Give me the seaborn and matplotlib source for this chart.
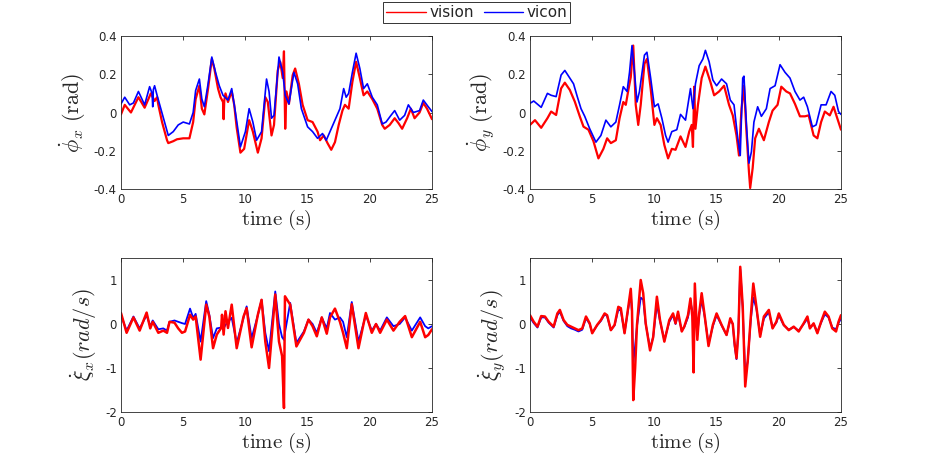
import matplotlib
matplotlib.use('Agg')
import matplotlib.pyplot as plt
from matplotlib.lines import Line2D
import seaborn as sns

# top-left: phi_x rate (rad)
t_px_vision = [0, 0.3, 0.8, 1.4, 1.9, 2.4, 2.7, 2.9, 3.0, 3.3,
               3.7, 3.8, 4.2, 4.5, 5.0, 5.5, 5.8, 6.0, 6.3, 6.5,
               6.7, 7.0, 7.3, 7.5, 7.8, 8.0, 8.2, 8.25, 8.3, 8.4,
               8.6, 8.9, 9.1, 9.3, 9.6, 9.9, 10.3, 10.6, 11.0, 11.3,
               11.6, 11.8, 12.1, 12.3, 12.6, 12.8, 13.0, 13.1, 13.2, 13.3,
               13.5, 13.8, 14.0, 14.3, 14.6, 15.0, 15.4, 15.8, 16.0, 16.3,
               16.6, 16.9, 17.2, 17.5, 17.8, 18.0, 18.3, 18.6, 18.9, 19.2,
               19.5, 19.8, 20.2, 20.6, 21.0, 21.2, 21.6, 22.0, 22.3, 22.6,
               23.0, 23.3, 23.6, 24.0, 24.3, 24.6, 25.0]
px_vision = [-0.01, 0.04, 0.0, 0.08, 0.025, 0.1, 0.06, 0.08, 0.04, -0.05,
             -0.145, -0.16, -0.15, -0.14, -0.135, -0.135, -0.05, 0.07, 0.14, 0.02,
             -0.01, 0.125, 0.28, 0.23, 0.125, 0.08, 0.055, -0.035, 0.06, 0.1,
             0.055, 0.11, 0.04, -0.08, -0.21, -0.19, -0.04, -0.1, -0.21, -0.135,
             0.08, 0.055, -0.12, -0.065, 0.22, 0.265, 0.18, 0.32, -0.085, 0.11,
             0.045, 0.195, 0.23, 0.15, 0.04, -0.04, -0.05, -0.1, -0.145, -0.12,
             -0.16, -0.195, -0.155, -0.065, 0.01, 0.04, 0.02, 0.16, 0.265, 0.18,
             0.09, 0.11, 0.07, 0.02, -0.065, -0.085, -0.065, -0.03, -0.055, -0.085,
             -0.03, 0.02, -0.03, 0.0, 0.05, 0.02, -0.035]
t_px_vicon = [0, 0.3, 0.7, 1.0, 1.4, 1.9, 2.3, 2.5, 2.55, 2.6,
              2.7, 2.9, 3.2, 3.5, 3.8, 4.2, 4.6, 5.0, 5.5, 5.8,
              6.0, 6.3, 6.5, 6.7, 7.0, 7.3, 7.6, 7.9, 8.2, 8.6,
              8.9, 9.2, 9.6, 10.0, 10.3, 10.6, 10.9, 11.3, 11.7, 11.9,
              12.1, 12.3, 12.7, 13.0, 13.2, 13.5, 13.9, 14.2, 14.5, 15.0,
              15.4, 15.8, 16.2, 16.5, 16.9, 17.2, 17.6, 17.9, 18.1, 18.3,
              18.6, 18.9, 19.2, 19.5, 19.8, 20.2, 20.6, 21.0, 21.3, 21.7,
              22.0, 22.4, 22.8, 23.1, 23.5, 24.0, 24.3, 24.7, 25.0]
px_vicon = [0.045, 0.08, 0.04, 0.05, 0.11, 0.04, 0.135, 0.1, 0.03, 0.12,
            0.14, 0.09, 0.02, -0.05, -0.12, -0.1, -0.065, -0.05, -0.06, 0.0,
            0.115, 0.175, 0.07, 0.03, 0.15, 0.29, 0.21, 0.14, 0.09, 0.065,
            0.125, 0.0, -0.18, -0.1, 0.02, -0.05, -0.145, -0.1, 0.175, 0.11,
            -0.03, -0.015, 0.29, 0.21, 0.09, 0.045, 0.21, 0.15, 0.02, -0.075,
            -0.1, -0.135, -0.11, -0.145, -0.085, -0.04, 0.02, 0.125, 0.08, 0.1,
            0.21, 0.31, 0.23, 0.125, 0.15, 0.08, 0.04, -0.06, -0.05, -0.015,
            0.01, -0.04, -0.015, 0.04, 0.0, 0.01, 0.065, 0.03, 0.005]

# top-right: phi_y rate (rad)
t_py_vision = [0, 0.4, 0.9, 1.4, 1.7, 2.1, 2.5, 2.8, 3.2, 3.6,
               4.0, 4.3, 4.7, 5.1, 5.5, 5.9, 6.2, 6.5, 6.9, 7.2,
               7.5, 7.7, 7.9, 8.1, 8.3, 8.5, 8.7, 8.9, 9.2, 9.4,
               9.7, 10.0, 10.2, 10.5, 10.8, 11.1, 11.4, 11.7, 12.1, 12.5,
               12.8, 13.0, 13.1, 13.2, 13.3, 13.5, 13.8, 14.1, 14.5, 14.8,
               15.2, 15.6, 16.0, 16.3, 16.6, 16.8, 17.0, 17.2, 17.4, 17.6,
               17.7, 17.9, 18.1, 18.4, 18.8, 19.2, 19.5, 19.9, 20.2, 20.6,
               20.9, 21.3, 21.7, 22.1, 22.4, 22.8, 23.1, 23.4, 23.7, 24.1,
               24.4, 24.7, 25.0]
py_vision = [-0.065, -0.04, -0.08, -0.03, 0.005, -0.013, 0.126, 0.156, 0.118, 0.057,
             -0.02, -0.074, -0.09, -0.15, -0.24, -0.19, -0.135, -0.16, -0.145, -0.03,
             0.055, 0.04, 0.115, 0.185, 0.35, 0.04, -0.065, 0.04, 0.255, 0.28,
             0.125, -0.065, -0.03, -0.065, -0.17, -0.24, -0.19, -0.195, -0.125, -0.18,
             -0.1, -0.065, -0.18, 0.135, -0.085, 0.04, 0.18, 0.24, 0.16, 0.09,
             0.11, 0.14, 0.04, -0.015, -0.12, -0.225, 0.02, 0.14, -0.1, -0.31,
             -0.395, -0.29, -0.135, -0.085, -0.145, -0.05, 0.01, 0.04, 0.135, 0.11,
             0.1, 0.045, -0.02, -0.02, -0.015, -0.12, -0.135, -0.05, 0.005, -0.015,
             0.03, -0.03, -0.09]
t_py_vicon = [0, 0.3, 0.9, 1.4, 1.7, 2.1, 2.5, 2.8, 3.1, 3.5,
              3.8, 4.1, 4.4, 4.8, 5.3, 5.7, 6.1, 6.5, 6.9, 7.2,
              7.5, 7.8, 8.0, 8.2, 8.4, 8.6, 8.8, 9.2, 9.4, 9.7,
              10.0, 10.3, 10.6, 10.9, 11.1, 11.4, 11.8, 12.1, 12.5, 12.9,
              13.1, 13.3, 13.6, 13.9, 14.1, 14.4, 14.7, 15.0, 15.4, 15.8,
              16.1, 16.4, 16.7, 16.9, 17.1, 17.2, 17.4, 17.6, 17.8, 18.0,
              18.3, 18.6, 19.0, 19.3, 19.7, 20.1, 20.5, 20.9, 21.3, 21.7,
              22.0, 22.3, 22.7, 23.0, 23.4, 23.8, 24.2, 24.5, 24.8, 25.0]
py_vicon = [0.048, 0.06, 0.027, 0.1, 0.09, 0.083, 0.196, 0.22, 0.19, 0.15,
            0.083, 0.02, -0.02, -0.085, -0.155, -0.12, -0.04, -0.075, -0.05, 0.04,
            0.135, 0.11, 0.21, 0.35, 0.21, 0.055, 0.11, 0.3, 0.315, 0.18,
            0.03, 0.045, -0.03, -0.12, -0.155, -0.1, -0.09, -0.01, -0.04, 0.125,
            0.02, 0.15, 0.245, 0.28, 0.325, 0.265, 0.17, 0.14, 0.175, 0.15,
            0.065, 0.04, -0.135, -0.225, 0.18, 0.19, -0.065, -0.265, -0.205, -0.05,
            0.03, -0.02, 0.02, 0.125, 0.14, 0.25, 0.21, 0.18, 0.11, 0.065,
            0.08, 0.03, -0.075, -0.065, 0.04, 0.04, 0.11, 0.09, 0.005, -0.01]

# bottom-left: xi_x rate (rad/s)
t_xx = [0, 0.45, 1.0, 1.5, 2.06, 2.35, 2.55, 3.0, 3.4, 3.7,
        3.9, 4.3, 4.6, 4.9, 5.15, 5.55, 5.8, 6.0, 6.4, 6.85,
        7.1, 7.4, 7.7, 8.05, 8.12, 8.25, 8.4, 8.6, 8.9, 9.3,
        9.85, 10.1, 10.5, 11.0, 11.3, 11.6, 11.9, 12.4, 12.7, 12.95,
        13.1, 13.18, 13.6, 14.1, 14.7, 15.07, 15.4, 15.74, 16.14, 16.54,
        16.8, 17.2, 17.6, 17.85, 18.15, 18.55, 19.09, 19.68, 20.16, 20.5,
        20.83, 21.37, 21.9, 22.4, 22.84, 23.38, 24.05, 24.45, 24.7, 25.0]
xx_vision = [0.25, -0.2, 0.15, -0.15, 0.26, -0.1, 0.05, -0.2, -0.15, -0.2,
             0.05, 0.03, -0.1, -0.2, -0.17, 0.21, 0.1, 0.17, -0.81, 0.44,
             0.17, -0.55, -0.24, -0.09, 0.21, -0.24, 0.29, -0.09, 0.44, -0.55,
             0.17, 0.36, -0.53, 0.21, 0.55, -0.4, -1.0, 0.67, -0.4, -0.73,
             -1.91, 0.63, 0.44, -0.51, -0.2, 0.1, -0.05, -0.28, 0.15, -0.22,
             0.15, 0.35, 0.05, -0.2, -0.55, 0.45, -0.55, 0.25, -0.2, 0.0,
             -0.2, 0.1, -0.15, 0.05, 0.18, -0.3, 0.05, -0.3, -0.25, -0.12]
xx_vicon = [0.2, -0.15, 0.17, -0.1, 0.2, -0.05, 0.08, -0.12, -0.1, -0.15,
            0.05, 0.08, 0.05, 0.02, 0.0, 0.35, 0.14, 0.23, -0.4, 0.52,
            0.21, -0.32, -0.1, -0.08, -0.05, -0.1, -0.02, 0.05, 0.14, -0.43,
            0.14, 0.4, -0.32, 0.2, 0.55, -0.2, -0.62, 0.74, 0.0, -0.3,
            -0.36, -0.2, 0.48, -0.43, -0.17, 0.1, 0.0, -0.2, 0.15, -0.1,
            0.25, 0.1, 0.15, 0.05, -0.3, 0.5, -0.4, 0.2, -0.15, 0.0,
            -0.15, 0.15, -0.05, 0.0, 0.15, -0.15, 0.15, -0.05, -0.1, -0.05]

# bottom-right: xi_y rate (rad/s)
t_xy = [0, 0.3, 0.6, 0.9, 1.2, 1.5, 1.9, 2.2, 2.4, 2.7,
        3.0, 3.3, 3.6, 3.9, 4.2, 4.5, 4.8, 5.0, 5.4, 5.7,
        6.0, 6.2, 6.5, 6.8, 7.1, 7.3, 7.6, 7.9, 8.1, 8.2,
        8.3, 8.45, 8.6, 8.9, 9.1, 9.3, 9.65, 9.9, 10.2, 10.45,
        10.8, 11.2, 11.5, 11.7, 11.9, 12.2, 12.4, 12.7, 12.9, 13.05,
        13.15, 13.25, 13.45, 13.6, 13.8, 14.05, 14.35, 14.7, 15.0, 15.4,
        15.8, 16.1, 16.3, 16.45, 16.6, 16.75, 16.9, 17.1, 17.3, 17.5,
        17.75, 17.95, 18.2, 18.5, 18.8, 19.2, 19.5, 19.8, 20.0, 20.4,
        20.8, 21.2, 21.6, 22.0, 22.3, 22.5, 22.8, 23.1, 23.4, 23.7,
        24.0, 24.3, 24.6, 24.8, 25.0]
xy_vision = [0.2, 0.05, -0.06, 0.18, 0.17, 0.05, -0.06, 0.24, 0.32, 0.09,
             -0.02, -0.06, -0.1, -0.14, -0.1, 0.17, 0.015, -0.21, -0.02, 0.09,
             0.24, 0.2, -0.14, -0.02, 0.39, 0.36, -0.21, 0.39, 0.8, 0.3,
             -1.73, -1.0, -0.02, 1.0, 0.7, 0.015, -0.6, -0.3, 0.62, 0.09,
             -0.4, 0.09, 0.24, 0.015, 0.28, -0.17, -0.06, 0.2, 0.58, 0.17,
             -1.1, 0.92, -0.36, 0.24, 0.7, 0.17, -0.5, -0.02, 0.24, -0.02,
             -0.25, 0.13, 0.0, -0.45, -0.78, -0.2, 1.3, 0.4, -1.42, -0.85,
             0.17, 0.92, 0.39, -0.29, 0.17, 0.32, -0.1, 0.05, 0.24, -0.02,
             -0.14, -0.06, -0.17, 0.015, 0.17, -0.1, 0.015, -0.21, 0.05, 0.28,
             0.17, -0.1, -0.17, 0.05, 0.2]
xy_vicon = [0.15, 0.02, -0.08, 0.15, 0.15, 0.03, -0.08, 0.2, 0.28, 0.07,
            -0.05, -0.1, -0.13, -0.17, -0.13, 0.13, 0.0, -0.2, -0.03, 0.07,
            0.22, 0.18, -0.14, -0.03, 0.33, 0.3, -0.2, 0.35, 0.7, 0.25,
            -0.9, -0.5, -0.05, 0.6, 0.55, 0.0, -0.55, -0.3, 0.45, 0.07,
            -0.37, 0.05, 0.2, 0.0, 0.22, -0.15, -0.07, 0.15, 0.5, 0.3,
            -0.3, 0.3, -0.25, 0.2, 0.55, 0.15, -0.45, -0.05, 0.2, -0.03,
            -0.25, 0.1, 0.0, -0.5, -0.8, -0.15, 1.25, 0.35, -1.15, -0.85,
            0.1, 0.6, 0.35, -0.25, 0.12, 0.27, -0.08, 0.03, 0.2, -0.03,
            -0.13, -0.07, -0.15, 0.0, 0.12, -0.08, 0.0, -0.18, 0.03, 0.22,
            0.15, -0.08, -0.12, 0.02, 0.12]

xticks = [0, 5, 10, 15, 20, 25]
yticks_top = [-0.4, -0.2, 0, 0.2, 0.4]
yticks_bottom = [-2, -1, 0, 1]

sns.set_style("white")
plt.rcParams['font.family'] = ['DejaVu Sans']
plt.rcParams['mathtext.fontset'] = 'cm'
plt.rcParams['axes.unicode_minus'] = False

RED = '#ff0000'
BLUE = '#0000ff'
GREY = '#262626'

fig = plt.figure(figsize=(9.29, 4.70), dpi=100)
W, H = 929, 470
positions = {
    'tl': [121 / W, 1 - 189 / H, 311 / W, 153 / H],
    'tr': [530 / W, 1 - 189 / H, 311 / W, 153 / H],
    'bl': [121 / W, 1 - 412 / H, 311 / W, 154 / H],
    'br': [530 / W, 1 - 412 / H, 311 / W, 154 / H],
}

panels = [
    ('tl', t_px_vision, px_vision, t_px_vicon, px_vicon, True,
     r'$\dot{\phi}_x\ \mathrm{(rad)}$', (-0.4, 0.4), yticks_top),
    ('tr', t_py_vision, py_vision, t_py_vicon, py_vicon, True,
     r'$\dot{\phi}_y\ \mathrm{(rad)}$', (-0.4, 0.4), yticks_top),
    ('bl', t_xx, xx_vision, t_xx, xx_vicon, False,
     r'$\dot{\xi}_x(rad/s)$', (-2, 1.5), yticks_bottom),
    ('br', t_xy, xy_vision, t_xy, xy_vicon, False,
     r'$\dot{\xi}_y(rad/s)$', (-2, 1.5), yticks_bottom),
]

for key, tv, vv, tc, vc, vision_first, ylab, ylim, yt in panels:
    ax = fig.add_axes(positions[key])
    if vision_first:
        sns.lineplot(x=tv, y=vv, ax=ax, color=RED, linewidth=1.6, legend=False)
        sns.lineplot(x=tc, y=vc, ax=ax, color=BLUE, linewidth=1.2, legend=False)
    else:
        sns.lineplot(x=tc, y=vc, ax=ax, color=BLUE, linewidth=1.3, legend=False)
        sns.lineplot(x=tv, y=vv, ax=ax, color=RED, linewidth=1.8, legend=False)
    ax.set_xlim(0, 25)
    ax.set_ylim(*ylim)
    ax.set_xticks(xticks)
    ax.set_yticks(yt)
    ax.set_yticklabels([f'{v:g}' for v in yt])
    ax.tick_params(direction='in', length=3, width=0.6, colors=GREY,
                   labelsize=8.5, top=True, right=True, pad=3)
    for s in ax.spines.values():
        s.set_visible(True)
        s.set_color(GREY)
        s.set_linewidth(0.6)
    ax.set_xlabel(r'$\mathrm{time\ (s)}$', fontsize=15, color=GREY, labelpad=1)
    ax.set_ylabel(ylab, fontsize=16, color=GREY, labelpad=4)

handles = [Line2D([], [], color=RED, linewidth=1.0, label='vision'),
           Line2D([], [], color=BLUE, linewidth=1.0, label='vicon')]
leg = fig.legend(handles=handles, loc='upper center', ncol=2,
                 bbox_to_anchor=(476.7 / W, 1 - 2 / H), fontsize=11,
                 frameon=True, fancybox=False, edgecolor='black',
                 borderpad=0.2, handlelength=2.6, handletextpad=0.2,
                 columnspacing=0.65, borderaxespad=0)
leg.get_frame().set_linewidth(0.7)

fig.savefig('out.png', dpi=100, facecolor='white')
